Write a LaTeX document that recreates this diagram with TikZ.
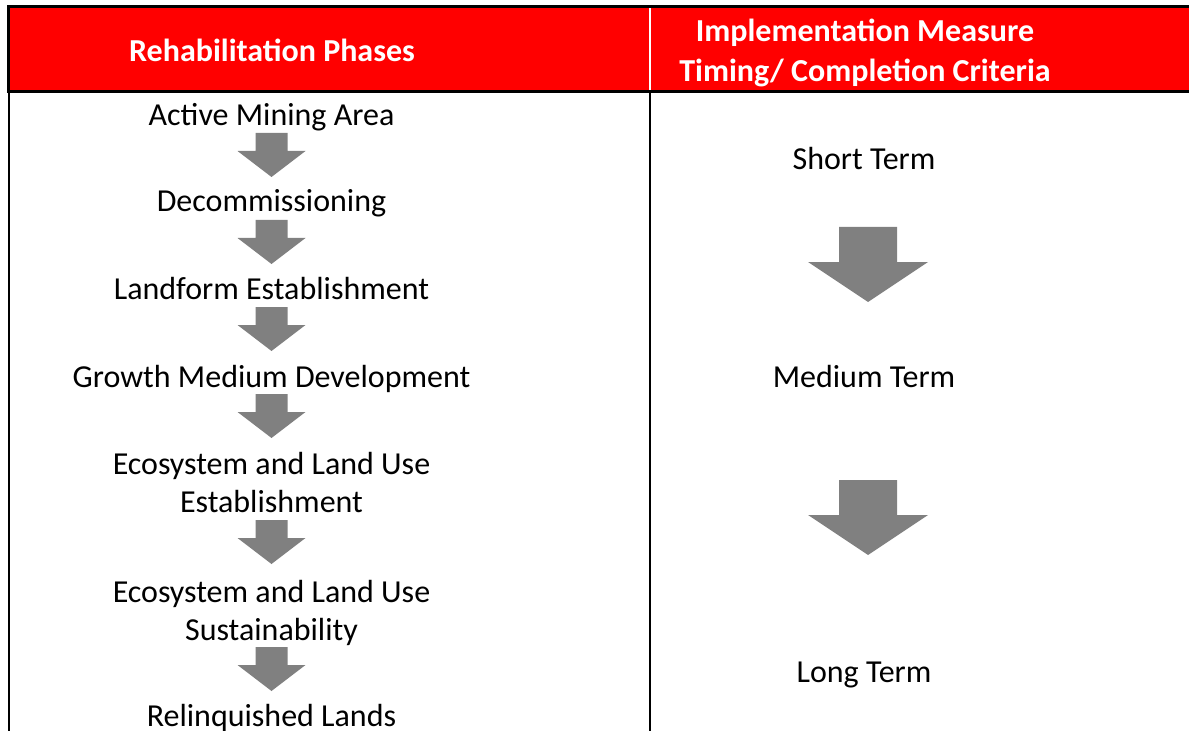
\documentclass[tikz,border=0pt]{standalone}
\usepackage{fontspec}
\setmainfont{Carlito}
\definecolor{headred}{RGB}{255,0,0}
\definecolor{arrowgray}{RGB}{128,128,128}

\begin{document}
\begin{tikzpicture}[x=0.75pt,y=-0.75pt,
    phase/.style={font=\fontsize{24}{28.5}\selectfont, align=center, anchor=base, inner sep=0pt},
    headtext/.style={font=\fontsize{24}{30}\selectfont\bfseries, align=center, anchor=base, inner sep=0pt, text=white},
    pics/phasearrow/.style={code={\fill[arrowgray] (-16,0) -- (16,0) -- (16,18) -- (34,18) -- (0,44) -- (-34,18) -- (-16,18) -- cycle;}},
    pics/termarrow/.style={code={\fill[arrowgray] (-29,0) -- (29,0) -- (29,35) -- (60,35) -- (0,75) -- (-60,35) -- (-29,35) -- cycle;}}]
    \useasboundingbox (0,0) rectangle (1189,731);

    % Header row
    \fill[headred] (10,8.5) rectangle (1189,90);
    \fill (7,5) rectangle (1189,8.5);
    \fill (7,90) rectangle (1189,93);
    \fill (7,5) rectangle (10,93);
    \fill[white] (649,8.5) rectangle (651,90);

    % Column rules
    \fill (8,93) rectangle (9.5,731);
    \fill (649,93) rectangle (650.5,731);

    % Header labels (base = last line)
    \node[headtext] (hphase) at (272,62) {Rehabilitation Phases};
    \node[headtext] (htiming) at (865,82) {Implementation Measure\\Timing/ Completion Criteria};

    % Phases
    \node[phase] (active) at (271.5,125.5) {Active Mining Area};
    \node[phase] (decom) at (271.5,212) {Decommissioning};
    \node[phase] (landform) at (271.5,299) {Landform Establishment};
    \node[phase] (growth) at (271.5,387) {Growth Medium Development};
    \node[phase] (ecoest) at (271.5,512) {Ecosystem and Land Use\\Establishment};
    \node[phase] (ecosus) at (271.5,640) {Ecosystem and Land Use\\Sustainability};
    \node[phase] (relinq) at (271.5,726) {Relinquished Lands};

    % Phase arrows
    \foreach \y in {133,220,307,394,520,647}
        \pic at (271.5,\y) {phasearrow};

    % Timing
    \node[phase] (short) at (864,170) {Short Term};
    \node[phase] (medium) at (864,387) {Medium Term};
    \node[phase] (long) at (864,682) {Long Term};

    % Timing arrows
    \pic at (868,227) {termarrow};
    \pic at (868,480) {termarrow};
\end{tikzpicture}
\end{document}
